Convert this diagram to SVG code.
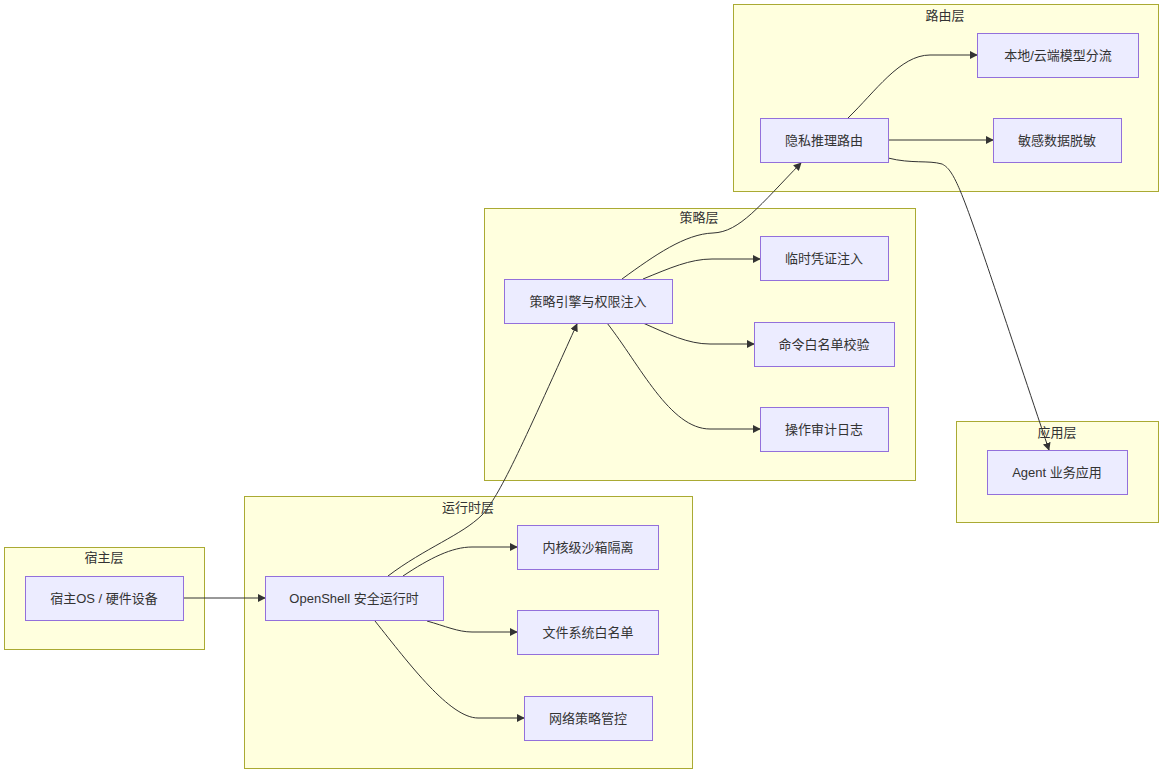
<svg xmlns="http://www.w3.org/2000/svg" width="1162" height="772" viewBox="0 0 1162 772">
<defs>
<marker id="arr" viewBox="0 0 10 10" refX="9" refY="5" markerWidth="8" markerHeight="8" orient="auto" markerUnits="userSpaceOnUse">
<path d="M0,0 L10,5 L0,10 z" fill="#333"/>
</marker>
<style>
.cl rect{fill:#ffffde;stroke:#aaaa33;stroke-width:1}
.nd rect{fill:#ececff;stroke:#9370db;stroke-width:1}
text{font-family:"Liberation Sans","Noto Sans CJK SC",sans-serif;font-size:13px;fill:#333;text-anchor:middle;dominant-baseline:central}
.ed path{fill:none;stroke:#333;stroke-width:1;marker-end:url(#arr)}
</style>
</defs>
<rect width="1162" height="772" fill="#fff"/>
<g id="cl-host" class="cl"><rect x="4.5" y="547.5" width="200" height="102"/><text x="104" y="557">宿主层</text></g>
<g id="cl-runtime" class="cl"><rect x="244.5" y="496.5" width="448" height="272"/><text x="468" y="507">运行时层</text></g>
<g id="cl-policy" class="cl"><rect x="484.5" y="208.5" width="431" height="272"/><text x="699" y="217">策略层</text></g>
<g id="cl-route" class="cl"><rect x="733.5" y="4.5" width="425" height="187"/><text x="945" y="15">路由层</text></g>
<g id="cl-app" class="cl"><rect x="956.5" y="421.5" width="202" height="101"/><text x="1057" y="432">应用层</text></g>

<g class="ed" id="edges">
<path d="M183,598 L265,598"/>
<path d="M403,576 C430,558 452,547 472,547 L517,547"/>
<path d="M427,621 C445,626 458,632 472,632 L517,632"/>
<path d="M375,621 C410,665 450,718 478,718 L524,718"/>
<path d="M388,576 C425,548 462,535 482,515 C500,495 520,450 577,324"/>
<path d="M622,279 C655,255 685,234 713,233 C740,232 760,205 801,163"/>
<path d="M643,279 C670,268 690,259 712,259 L760,259"/>
<path d="M643,323 C668,334 688,344 710,344 L754,344"/>
<path d="M607,323 C640,365 670,429 710,429 L760,429"/>
<path d="M848,118 C875,92 900,55 930,55 L977,55"/>
<path d="M888,140 L993,140"/>
<path d="M888,158 C912,164 928,160 942,164 C958,172 965,200 1049,450"/>
</g>

<g id="n-host" class="nd"><rect x="25.5" y="576.5" width="158" height="44"/><text x="104" y="598">宿主OS / 硬件设备</text></g>
<g id="n-openshell" class="nd"><rect x="265.5" y="576.5" width="178" height="44"/><text x="354" y="598">OpenShell 安全运行时</text></g>
<g id="n-sandbox" class="nd"><rect x="517.5" y="525.5" width="141" height="44"/><text x="588" y="547">内核级沙箱隔离</text></g>
<g id="n-fs" class="nd"><rect x="517.5" y="610.5" width="141" height="44"/><text x="588" y="632">文件系统白名单</text></g>
<g id="n-net" class="nd"><rect x="524.5" y="696.5" width="128" height="44"/><text x="588" y="718">网络策略管控</text></g>
<g id="n-policy" class="nd"><rect x="504.5" y="279.5" width="168" height="44"/><text x="588" y="301">策略引擎与权限注入</text></g>
<g id="n-cred" class="nd"><rect x="760.5" y="236.5" width="128" height="44"/><text x="824" y="258">临时凭证注入</text></g>
<g id="n-cmd" class="nd"><rect x="754.5" y="322.5" width="140" height="44"/><text x="824" y="344">命令白名单校验</text></g>
<g id="n-audit" class="nd"><rect x="760.5" y="407.5" width="128" height="44"/><text x="824" y="429">操作审计日志</text></g>
<g id="n-route" class="nd"><rect x="760.5" y="118.5" width="128" height="44"/><text x="824" y="140">隐私推理路由</text></g>
<g id="n-split" class="nd"><rect x="977.5" y="33.5" width="161" height="44"/><text x="1058" y="55">本地/云端模型分流</text></g>
<g id="n-mask" class="nd"><rect x="993.5" y="118.5" width="128" height="44"/><text x="1057" y="140">敏感数据脱敏</text></g>
<g id="n-agent" class="nd"><rect x="987.5" y="450.5" width="140" height="44"/><text x="1057" y="472">Agent 业务应用</text></g>
</svg>
